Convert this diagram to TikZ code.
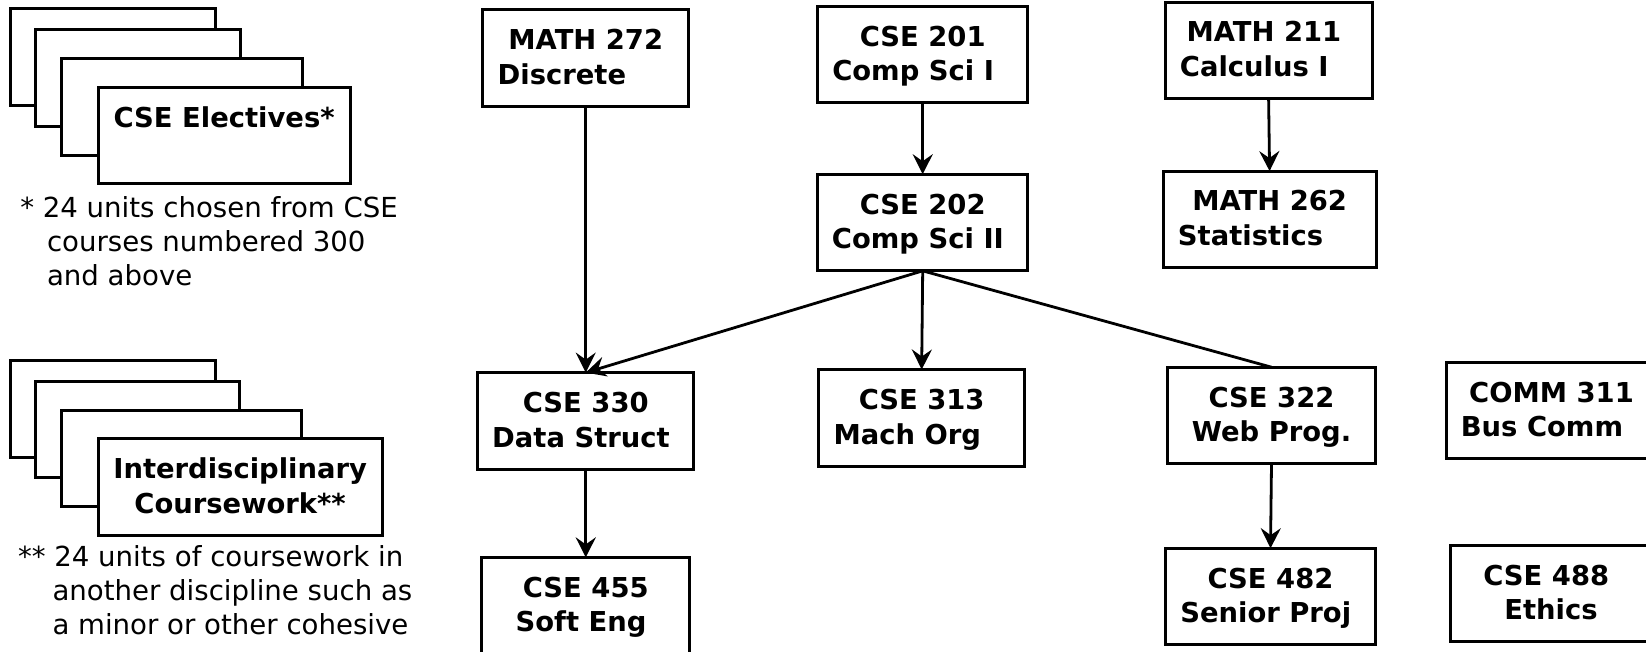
\documentclass[tikz,border=0pt]{standalone}
\usepackage{fontspec}
\setmainfont{DejaVu Sans}
\usetikzlibrary{arrows.meta}
\newcommand\lnstrut{\rule[-8.4pt]{0pt}{34.6pt}}
\begin{document}
\begin{tikzpicture}[x=1pt,y=-1pt,
  course/.style={draw=black, line width=3pt, fill=white, inner sep=0pt, outer sep=0pt,
    minimum height=96.6pt, align=center, font=\fontsize{27.4}{34.6}\selectfont\bfseries},
  card/.style={draw=black, line width=3pt, fill=white},
  note/.style={anchor=base west, inner sep=0pt, outer sep=0pt, font=\fontsize{27.6}{34.6}\selectfont},
  arr/.style={line width=2.8pt, -{Stealth[length=20pt,width=20pt,inset=7pt]}},
  link/.style={line width=2.8pt}]
\useasboundingbox (0,0) rectangle (1646,652);
\fill[white] (0,0) rectangle (1646,652);

% stack 1: CSE electives
\draw[card] (10,8.3) rectangle (215,106);
\draw[card] (35.7,30) rectangle (240,126.7);
\draw[card] (61,59) rectangle (302.3,155.7);
\node[course, minimum width=251.7pt, minimum height=96.7pt] (elect) at (224.15,135.65)
  {CSE Electives*\lnstrut\\\lnstrut};
\node[note] (fn1a) at (20.3,218) {* 24 units chosen from CSE};
\node[note] (fn1b) at (47,252) {courses numbered 300};
\node[note] (fn1c) at (47,286) {and above};

% stack 2: interdisciplinary
\draw[card] (10,360.5) rectangle (215,457);
\draw[card] (35.3,381.5) rectangle (239.5,477.9);
\draw[card] (61,410) rectangle (301.7,506.7);
\node[course, minimum width=283.7pt, minimum height=96.3pt] (inter) at (240.15,487.05)
  {Interdisciplinary\lnstrut\\Coursework**\lnstrut};
\node[note] (fn2a) at (18,566) {** 24 units of coursework in};
\node[note] (fn2b) at (52.5,600) {another discipline such as};
\node[note] (fn2c) at (52.5,634) {a minor or other cohesive};

% courses
\node[course, minimum width=205.7pt, minimum height=97.5pt] (m272) at (585.75,58.25)
  {MATH 272\lnstrut\\Discrete\kern47.7pt\lnstrut};
\node[course, minimum width=210pt] (c201) at (922.7,54.6)
  {CSE 201\lnstrut\\Comp Sci I\kern19.1pt\lnstrut};
\node[course, minimum width=206.8pt] (m211) at (1268.6,50.4)
  {MATH 211\kern9.5pt\lnstrut\\Calculus I\kern28.6pt\lnstrut};
\node[course, minimum width=210pt] (c202) at (922.7,222.55)
  {CSE 202\lnstrut\\Comp Sci II\kern9.5pt\lnstrut};
\node[course, minimum width=213.2pt] (m262) at (1269.6,219.4)
  {MATH 262\lnstrut\\Statistics\kern38.1pt\lnstrut};
\node[course, minimum width=216.3pt] (c330) at (585.75,420.9)
  {CSE 330\lnstrut\\Data Struct\kern9.5pt\lnstrut};
\node[course, minimum width=205.7pt] (c313) at (921.65,417.8)
  {CSE 313\lnstrut\\Mach Org\kern28.6pt\lnstrut};
\node[course, minimum width=208.5pt] (c322) at (1271.5,415.5)
  {CSE 322\lnstrut\\Web Prog.\lnstrut};
\node[course, minimum width=210pt] (comm311) at (1551.5,410.4)
  {COMM 311\lnstrut\\Bus Comm\kern19.1pt\lnstrut};
\node[course, minimum width=207.9pt] (c455) at (585.75,605.7)
  {CSE 455\lnstrut\\Soft Eng\kern9.5pt\lnstrut};
\node[course, minimum width=210pt] (c482) at (1270.5,596.5)
  {CSE 482\lnstrut\\Senior Proj\kern9.5pt\lnstrut};
\node[course, minimum width=201pt] (c488) at (1551,593.5)
  {CSE 488\kern9.5pt\lnstrut\\Ethics\lnstrut};

% connectors
\draw[arr] (m272.south) -- (c330.north);
\draw[arr] (c201.south) -- (c202.north);
\draw[arr] (m211.south) -- (m262.north);
\draw[arr] (c202.south) -- (c330.north);
\draw[arr] (c202.south) -- (c313.north);
\draw[link] (c202.south) -- (c322.north);
\draw[arr] (c330.south) -- (c455.north);
\draw[arr] (c322.south) -- (c482.north);
\end{tikzpicture}
\end{document}
